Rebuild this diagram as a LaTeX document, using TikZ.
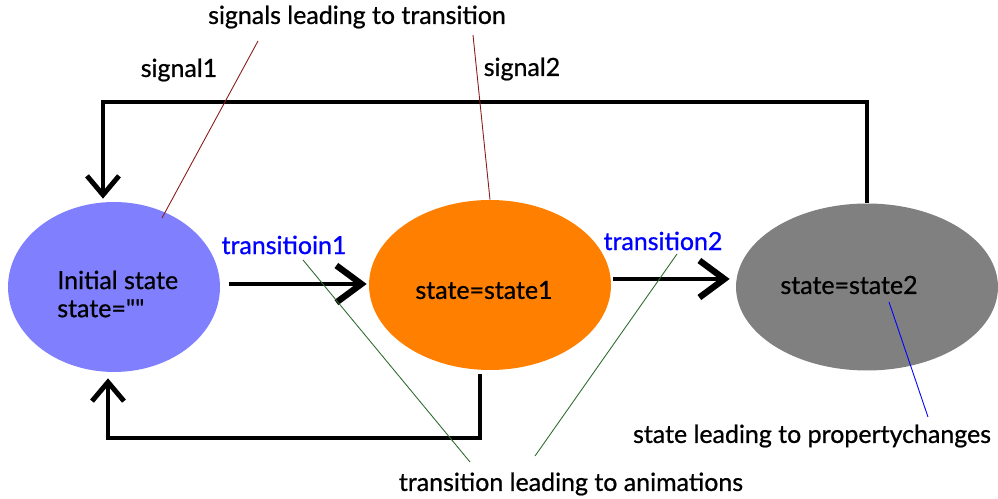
\documentclass[tikz,border=0pt]{standalone}
\usepackage{fontspec}
\newfontfamily\lato{Lato}[FakeBold=0.8]
\usepackage{xcolor}
\usetikzlibrary{arrows.meta,calc,shapes.geometric}

\definecolor{lilac}{HTML}{8080FF}
\definecolor{pumpkin}{HTML}{FF8000}
\definecolor{slate}{HTML}{808080}
\definecolor{wine}{HTML}{8B1A1A}
\definecolor{moss}{HTML}{2E6B2E}

\tikzset{
  state/.style={ellipse, inner sep=0pt, draw=none},
  txt/.style={font=\lato\fontsize{14.2}{16}\selectfont, inner sep=0pt},
  blu/.style={txt, text=blue},
  flow/.style={line width=2.8pt, -{Straight Barb[length=0.5cm, width=0.74cm, line width=3.6pt]}},
  loopar/.style={line width=2.3pt, -{Straight Barb[length=0.38cm, width=0.64cm, line width=2.8pt]}},
  pointer/.style={line width=0.5pt}
}

\begin{document}
\begin{tikzpicture}[x=0.02cm, y=-0.02cm]
    \useasboundingbox (0,0) rectangle (998,499);
    % states
    \node[state, fill=lilac, minimum width=4.24cm, minimum height=3.4cm] (s0) at (114,287) {};
    \node[state, fill=pumpkin, minimum width=4.84cm, minimum height=3.4cm] (s1) at (490,285) {};
    \node[state, fill=slate, minimum width=5.24cm, minimum height=3.34cm] (s2) at (867,287) {};
    \node[txt, align=left, anchor=west] (t0) at (57,294) {Initial state\\state=""};
    \node[txt] (t1) at (484,290) {state=state1};
    \node[txt] (t2) at (849,285) {state=state2};
    % labels
    \node[txt] (lead) at (357,17) {signals leading to transition};
    \node[txt] (sg1) at (179,70) {signal1};
    \node[txt] (sg2) at (522,69) {signal2};
    \node[blu] (tr1) at (284,245) {transitioin1};
    \node[blu] (tr2) at (663,241) {transition2};
    \node[txt] (anim) at (571,484) {transition leading to animations};
    \node[txt] (prop) at (812,436) {state leading to propertychanges};
    % pointer ends
    \coordinate (w1) at (258,41);
    \coordinate (w2) at (473,35);
    \coordinate (g1) at (303,260);
    \coordinate (g2) at (677,254);
    \coordinate (g3) at (470,462);
    \coordinate (g4) at (535,456);
    % transitions
    \draw[flow] ($(s0.east)+(9,-3)$) -- ($(s1.west)+(-2,-1)$);
    \draw[flow] ($(s1.east)+(2,-6)$) -- ($(s2.west)+(-6,-8)$);
    % signals
    \draw[loopar] (s2.north) -- ++(0,-101) -| ($(s0.north)+(-11,-3)$);
    \draw[loopar] ($(s1.south)+(-10,4)$) -- ++(0,64) -| ($(s0.south)+(-6,6)$);
    % pointers
    \draw[pointer, wine] (w1) -- (162,218);
    \draw[pointer, wine] (w2) -- (s1.north);
    \draw[pointer, moss] (g1) -- (g3);
    \draw[pointer, moss] (g2) -- (g4);
    \draw[pointer, blue] (889,302) -- (928,417);
  \end{tikzpicture}
\end{document}
